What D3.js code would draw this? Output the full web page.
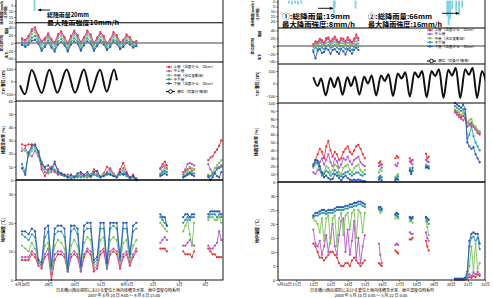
<!DOCTYPE html>
<html><head><meta charset="utf-8">
<script src="https://cdn.jsdelivr.net/npm/d3@7"></script>
<style>
body{margin:0;background:#fff}
svg{display:block}
text{font-family:"Noto Sans CJK JP","Noto Sans",sans-serif;fill:#000}
.tk text{font-family:"Liberation Sans",Arial,sans-serif;font-size:4px}
</style>
</head><body>
<svg id="c" width="493" height="298"></svg>
<script>
// ================= DATA =================
const LAYER_NAMES = ["上層（法面から　10cm）","中上層","中層（水位変動域）","中下層","下層（法面から　30cm）"];
const TIDE_NAME = "潮位（気象庁 晴海）";

// ---- left panel (2007, hours from 8/28 0:00) ----
const leftXTicks = [0,24,48,72,96,120,144,168];
const leftXLabels = ["8月28日","29日","30日","31日","9月1日","2日","3日","4日"];
const leftRainHours = [11.5];
const leftRainValues = [10];
const leftTideHours = [-1.8,2.75,8.9,18.1,25.1,32.4,41,48.7,56.9,63.1,71.6,77.8,84.5,87.2];
const leftTideValues = [-30,-100,90,-90,92,-88,95,-88,95,-85,92,-80,95,10];
const leftHours = [0,3,6,9,12,15,18,21,24,27,30,33,36,39,42,45,48,51,54,57,60,63,66,69,72,75,78,81,84,87,90,93,96,99,102,105,
  127,129,131,133, 148,150,152,154,156,158, 171,173,175,177,179,181,183];
const leftDispRed    = [12,8,18,35,40,20,5,12,25,10,2,22,30,15,0,18,32,20,2,15,32,22,0,14,28,18,0,10,28,20,2,8,22,15,2,5];
const leftDispPurple = [8,5,14,30,35,16,2,8,20,6,-2,18,25,12,-3,14,27,16,-2,12,27,18,-3,10,23,14,-3,7,22,16,-1,5,18,12,0,3];
const leftDispGreen  = [4,0,8,22,28,10,-6,2,14,0,-8,12,18,6,-10,8,20,10,-8,6,20,12,-8,4,16,8,-8,2,16,10,-5,0,12,8,-3,0];
const leftDispTeal   = [0,-6,2,14,18,4,-14,-4,6,-6,-16,4,10,0,-18,2,12,4,-16,0,12,4,-15,-2,8,2,-15,-4,8,4,-12,-5,6,2,-8,-4];
const leftDispBlue   = [-5,-10,-4,6,8,-2,-20,-10,0,-12,-22,-4,2,-6,-22,-4,4,-2,-20,-6,4,-2,-20,-8,2,-4,-18,-10,2,-2,-16,-10,0,-4,-12,-8];
const leftWaterRed    = [27,26,27,27,26,22,8,3,8,10,6,4,5,3,4,2,3,2,5,3,2,4,8,6,3,5,10,8,4,3,8,13,6,2,4,1, 9,12,14,11, 6,7,8,9,7,8, 15,17,18,21,23,26,30];
const leftWaterPurple = [22,24,20,18,22,18,10,6,5,6,12,8,4,3,2,3,2,3,4,3,4,3,5,4,3,4,6,9,5,3,6,9,4,2,3,1, 8,10,11,9, 4,8,12,13,12,11, 12,8,5,6,9,10,11];
const leftWaterGreen  = [24,22,18,22,24,20,12,8,6,8,8,6,5,4,3,2,3,4,3,2,3,4,5,5,3,4,5,7,4,3,5,7,3,2,2,0, 5,7,9,8, 3,5,7,10,9,8, 4,3,6,9,11,13,15];
const leftWaterTeal   = [12,6,20,24,26,22,14,9,7,9,7,5,4,3,2,1,2,3,2,3,4,2,4,3,2,3,4,5,3,2,4,5,3,1,2,0, 4,6,7,6, 2,3,5,6,5,5, 2,3,4,6,8,9,10];
const leftWaterBlue   = [9,4,21,26,27,21,12,10,11,8,14,6,5,4,2,4,2,5,6,4,6,3,6,7,2,3,5,4,3,2,6,4,5,2,3,0, 3,4,5,4, 2,3,4,5,4,3, 3,0,2,5,3,2,6];
const leftTempRed    = [7,7,7,9,8,5,4,8,9,0,7,9,9,8,3,8,9,8,3,8,10,9,3,4,9,10,4,9,10,9,4,8,9,5,8,10, 11,11,11,10, 10,9,9,9,8,10, 11,10,9,9,8,8,8];
const leftTempPurple = [8,8,8,10,9,6,5,9,11,2,9,10,10,9,3,9,10,9,3,9,11,10,4,5,10,11,4,10,11,10,5,9,10,6,9,11, 13,14,15,14, 12,12,13,14,13,12, 12,11,11,12,13,17,14];
const leftTempGreen  = [12,11,10,13,11,7,6,12,13,3,12,14,13,11,3,12,14,12,4,13,15,14,5,6,14,15,5,14,15,14,6,13,14,7,12,14, 20,19,18,17, 17,19,21,16,12,20, 21,22,22,21,21,22,20];
const leftTempTeal   = [16,15,14,16,15,6,5,15,17,4,16,17,17,15,3,17,18,16,4,17,18,18,6,7,18,18,5,18,19,18,7,18,18,8,17,18, 22,21,20,19, 20,21,22,21,22,22, 22,23,23,23,22,23,22];
const leftTempBlue   = [17,17,16,18,17,7,6,18,19,5,18,19,19,18,4,19,19,18,5,19,20,20,7,8,20,20,6,20,20,20,8,20,20,9,19,20, 23,22,22,19, 22,23,23,22,23,23, 23,24,24,24,24,24,23];

// ---- right panel (2008, day of May) ----
const rightXTicks = [10,11,12,13,14,15,16,17,18,19,20,21,22];
const rightXLabels = ["5月10日","11日","12日","13日","14日","15日","16日","17日","18日","19日","20日","21日","22日"];
const rightRainDays = [10.58,10.75,10.93,11.1,11.28,13.19,13.25,14.46,19.8,19.88,19.97,20.09,20.32,20.49,20.67];
const rightRainValues = [2,3,2,3,2,12,6,7,15,24,18,8,10,14,6];
const rightTideDays = [12,12.25,12.45,12.72,13,13.22,13.44,13.7,13.98,14.2,14.42,14.68,14.96,15.18,15.4,15.66,15.94,16.16,16.38,16.64,16.92,17.14,17.36,17.62,17.9,18.12,18.34,18.6,18.88,19.1,19.32,19.58,19.86,20.08,20.3,20.56,20.84,21.06,21.28,21.54,21.82,22.05];
const rightTideValues = [50,-20,40,-95,45,-30,50,-90,50,-20,55,-90,55,0,65,-95,65,20,75,-100,80,40,90,-105,90,50,100,-110,100,60,115,-115,110,65,125,-115,115,70,125,-115,100,20];
const rightDays = [12,12.125,12.25,12.375,12.5,12.625,12.75,12.875,13,13.125,13.25,13.375,13.5,13.625,13.75,13.875,14,14.125,14.25,14.375,14.5,14.625,14.75,14.875,15,
  15.82,15.9,15.98, 16.78,16.86,16.94, 17.62,17.7,17.78, 18.56,18.64,18.72,
  20.25,20.37,20.49,20.61,20.73,20.85,20.97,21.09,21.21,21.33,21.45,21.57,21.69];
const rightDispRed    = [5,12,10,18,15,8,20,22,12,18,24,15,10,20,18,12,22,15,10,18,30,20];
const rightDispPurple = [0,8,5,14,10,4,15,18,8,12,18,10,6,15,12,8,16,10,6,13,22,14];
const rightDispGreen  = [-2,4,2,8,5,0,8,10,3,6,10,4,2,8,6,2,8,4,0,6,12,6];
const rightDispTeal   = [-10,-4,-8,0,-4,-8,0,2,-5,-2,2,-4,-8,0,-3,-8,0,-5,-10,-2,4,-2];
const rightDispBlue   = [-15,-32,-12,-8,-18,-15,-6,-10,-20,-10,-8,-15,-20,-8,-14,-22,-8,-12,-20,-10,-4,-10];
const rightWaterRed    = [20,28,35,42,38,30,45,52,40,32,38,35,28,30,38,42,45,38,35,40,45,47,42,35,30, 24,26,22,30,33,31,30,26,28,36,30,32, 90,88,85,82,84,80,70,72,75,70,68,62,60];
const rightWaterPurple = [12,10,15,25,30,22,28,35,25,20,30,26,18,22,30,28,32,26,22,28,30,32,25,22,20, 20,22,18,22,20,24,26,24,22,28,26,25, 88,85,82,80,78,82,75,74,72,70,66,64,62];
const rightWaterGreen  = [18,22,25,15,10,12,20,18,12,15,22,20,12,10,18,20,22,15,12,18,20,22,15,12,15, 12,16,14,6,8,10,18,15,14,22,21,20, 92,90,88,85,88,84,75,78,80,72,70,66,64];
const rightWaterTeal   = [20,25,24,15,8,10,14,12,8,10,15,12,8,7,10,12,13,10,8,10,12,12,9,8,10, 6,8,6,4,5,7,16,12,14,20,19,19, 96,94,92,90,92,86,55,60,70,58,50,45,40];
const rightWaterBlue   = [22,28,27,20,12,6,8,5,3,4,10,8,5,2,6,8,5,3,2,3,2,3,2,1,1, 3,5,2,2,4,3,14,10,18,18,19,17, 100,98,96,94,98,92,50,45,42,44,35,30,25];
const rightTempRed    = [13,12,10,8,8,7,8,9,10,10,9,8,6,5,5,6,6,5,7,8,7,6,5,6,7, 6,5.5,5,10.5,10,9.5,14.5,14.5,15,14,12,10.5, 0,0,0,0,0,0.2,0.5,1,0.8,1.5,1,2,1.5];
const rightTempPurple = [18,13,12,14,9,12,16,10,15,20,12,9,16,21,22,10,18,9,14,21,8,15,6,12,16, 13,9,6,12.5,13,12.5,17,16.5,16.5,17,15,14, 0,0,0,0,0.2,0.3,0.8,2,1.5,2.5,2,3,2];
const rightTempGreen  = [22,21,20,17,22,14,22,23,13,22,23,12,22,24,16,23,24,18,24,25,15,25,24,17,24, 25,24,24.5,22,23,22,21,21,20.5,21,19,16, 0.2,0.2,0.2,0.2,0.3,0.5,1.5,5,12,3,13,4,6];
const rightTempTeal   = [22.5,23,23,23.5,24,24,23.5,24,24,24,24.5,25,25,25,25,25.5,25.5,26,26,26.5,26.5,27,27,26.5,26, 25.5,25,25,23,23,22.5,22,21.5,22,22,21,20, 0.3,0.3,0.3,0.3,0.3,0.6,2,12,15,15.5,14,15,11];
const rightTempBlue   = [23,24,24,24.5,25,25,24.5,25,25,25,25.5,26,26,26,26,26.5,26.5,27,27,27.5,27.5,28,28,27.5,27, 26,26,25.5,23.5,24,23.5,22.5,22,22.5,22.5,22,21.5, 0.5,0.5,0.5,0.5,0.5,0.8,3,14,16.5,17,16.5,16.5,13];

// ================= DRAWING =================
const COLORS = ["#e8383a","#b457cc","#7cc35a","#2f9aa6","#2a58b6"];
const RAIN_COLOR = "#7fd3df";
const svg = d3.select("#c");

function drawPanel(cfg, id) {
  const g = svg.append("g");
  const x = d3.scaleLinear().domain(cfg.xDomain).range(cfg.xRange);
  const X0 = cfg.frameX[0], X1 = cfg.frameX[1];
  g.append("clipPath").attr("id", "clip" + id).append("rect")
    .attr("x", X0).attr("y", -2).attr("width", X1 - X0).attr("height", 284);
  const plot = g.append("g").attr("clip-path", `url(#clip${id})`);

  const yRain = d3.scaleLinear().domain(cfg.rainDomain).range(cfg.rainRange);
  const yDisp = d3.scaleLinear().domain(cfg.dispDomain).range(cfg.dispRange);
  const yTide = d3.scaleLinear().domain(cfg.tideDomain).range(cfg.tideRange);
  const yWater = d3.scaleLinear().domain(cfg.waterDomain).range(cfg.waterRange);
  const yTemp = d3.scaleLinear().domain(cfg.tempDomain).range(cfg.tempRange);

  // rain bars
  plot.selectAll(null).data(d3.zip(cfg.rainT, cfg.rainV)).join("rect")
    .attr("x", d => x(d[0]) - 0.9).attr("width", 1.8)
    .attr("y", yRain(0) - 1).attr("height", d => yRain(d[1]) - yRain(0) + 1)
    .attr("fill", RAIN_COLOR);

  // zero line displacement
  g.append("line").attr("x1", X0).attr("x2", X1).attr("y1", yDisp(0)).attr("y2", yDisp(0))
    .attr("stroke", "#808080").attr("stroke-width", 1.6);

  function series(yScale, xs, list, gap) {
    list.forEach((vals, i) => {
      const pts = vals.map((v, j) => [xs[j], v]);
      const segs = []; let cur = [];
      pts.forEach((p, j) => { if (j > 0 && p[0] - pts[j-1][0] > gap) { segs.push(cur); cur = []; } cur.push(p); });
      segs.push(cur);
      const line = d3.line().x(d => x(d[0])).y(d => yScale(d[1]));
      segs.forEach(s => plot.append("path").attr("d", line(s)).attr("fill", "none")
        .attr("stroke", COLORS[i]).attr("stroke-width", 0.9));
      plot.append("g").selectAll("circle").data(pts).join("circle")
        .attr("cx", d => x(d[0])).attr("cy", d => yScale(d[1])).attr("r", 1.15)
        .attr("fill", COLORS[i]);
    });
  }
  series(yDisp, cfg.dispT, cfg.disp, cfg.gap);
  series(yWater, cfg.t, cfg.water, cfg.gap);
  series(yTemp, cfg.t, cfg.temp, cfg.gap);

  // tide
  plot.append("path").datum(d3.zip(cfg.tideT, cfg.tideV))
    .attr("d", d3.line().x(d => x(d[0])).y(d => yTide(d[1])).curve(d3.curveMonotoneX))
    .attr("fill", "none").attr("stroke", "#111").attr("stroke-width", 2);

  // frames
  const hl = [cfg.rainRange[1], cfg.dispRange[0], cfg.tideRange[0]];
  g.append("rect").attr("x", X0).attr("y", -2).attr("width", X1 - X0).attr("height", 282)
    .attr("fill", "none").attr("stroke", "#000").attr("stroke-width", 0.9);
  hl.forEach(yy => g.append("line").attr("x1", X0).attr("x2", X1).attr("y1", yy).attr("y2", yy)
    .attr("stroke", "#000").attr("stroke-width", 1.1));
  g.append("line").attr("x1", X0).attr("x2", X1).attr("y1", yWater(0)).attr("y2", yWater(0))
    .attr("stroke", "#000").attr("stroke-width", 1.6);

  // axes
  function yAxis(scale, ticks) {
    const a = g.append("g").attr("class", "tk").attr("transform", `translate(${X0},0)`)
      .call(d3.axisLeft(scale).tickValues(ticks).tickSize(1.8).tickPadding(1));
    a.select(".domain").remove();
    a.selectAll("line").attr("stroke-width", 0.5);
  }
  yAxis(yRain, cfg.rainTicks);
  yAxis(yDisp, cfg.dispTicks);
  yAxis(yTide, cfg.tideTicks);
  yAxis(yWater, cfg.waterTicks);
  yAxis(yTemp, cfg.tempTicks);

  const xa = g.append("g").attr("class", "tk").attr("transform", "translate(0,280)")
    .call(d3.axisBottom(x).tickValues(cfg.xTicks).tickFormat((d, i) => cfg.xLabels[i]).tickSize(1.8).tickPadding(1.5));
  xa.select(".domain").remove();
  xa.selectAll("line").attr("stroke-width", 0.5);
  xa.selectAll("text").style("font-family", '"Noto Sans CJK JP",sans-serif').style("font-size", "4px");
  if (cfg.firstLabelStart) {
    xa.selectAll("text").filter((d, i) => i === 0).attr("text-anchor", "start").attr("x", -2.5);
  }

  // axis titles
  cfg.titles.forEach(tt => g.append("text")
    .attr("transform", `translate(${tt[1]},${tt[2]}) rotate(-90)`)
    .attr("text-anchor", "middle").attr("font-size", tt[3]).attr("font-weight", "bold").text(tt[0]));

  // legend
  const lg = g.append("g");
  LAYER_NAMES.forEach((nm, i) => {
    const ly = cfg.legendY + i * cfg.legendStep;
    lg.append("line").attr("x1", cfg.legendX).attr("x2", cfg.legendX + 6).attr("y1", ly).attr("y2", ly)
      .attr("stroke", COLORS[i]).attr("stroke-width", 1);
    lg.append("circle").attr("cx", cfg.legendX + 3).attr("cy", ly).attr("r", 1.2).attr("fill", COLORS[i]);
    lg.append("text").attr("x", cfg.legendX + 7.5).attr("y", ly + 1.3).attr("font-size", 3.6).text(nm);
  });
  lg.append("line").attr("x1", cfg.legendX).attr("x2", cfg.legendX + 9).attr("y1", cfg.tideLegendY).attr("y2", cfg.tideLegendY)
    .attr("stroke", "#111").attr("stroke-width", 1.2);
  lg.append("circle").attr("cx", cfg.legendX + 4.5).attr("cy", cfg.tideLegendY).attr("r", 1.8)
    .attr("fill", "#fff").attr("stroke", "#111").attr("stroke-width", 1);
  lg.append("text").attr("x", cfg.legendX + 11).attr("y", cfg.tideLegendY + 1.3).attr("font-size", 3.6).text(TIDE_NAME);

  // rain notes
  cfg.notes.forEach(n => g.append("text").attr("x", n[1]).attr("y", n[2]).attr("font-size", n[3])
    .attr("font-weight", "bold").attr("textLength", n[4]).attr("lengthAdjust", "spacingAndGlyphs").text(n[0]));
  cfg.arrows.forEach(a => {
    g.append("line").attr("x1", a[0]).attr("x2", a[1]).attr("y1", a[2]).attr("y2", a[2])
      .attr("stroke", "#000").attr("stroke-width", 0.9);
    const dir = Math.sign(a[1] - a[0]);
    g.append("path").attr("d", `M${a[1]},${a[2]} l${-dir*3.2},-1.6 l0,3.2 z`).attr("fill", "#000");
  });

  // captions
  cfg.captions.forEach(c => g.append("text").attr("x", c[1]).attr("y", c[2]).attr("text-anchor", "middle")
    .attr("font-size", 4).text(c[0]));
}

drawPanel({
  xDomain: [0, 168], xRange: [22, 205], frameX: [16, 223],
  xTicks: leftXTicks, xLabels: leftXLabels, firstLabelStart: false,
  t: leftHours, dispT: leftHours.slice(0, 36), gap: 10,
  rainT: leftRainHours, rainV: leftRainValues, rainDomain: [0, 20], rainRange: [-0.4, 22.7], rainTicks: [5, 10, 15, 20],
  dispDomain: [-49, 49], dispRange: [62, 24], dispTicks: [-40, -20, 0, 20, 40],
  disp: [leftDispRed, leftDispPurple, leftDispGreen, leftDispTeal, leftDispBlue],
  tideT: leftTideHours, tideV: leftTideValues, tideDomain: [-153, 153], tideRange: [101, 62], tideTicks: [-100, 0, 100],
  waterDomain: [0, 60], waterRange: [180, 101], waterTicks: [0, 10, 20, 30, 40, 50, 60],
  water: [leftWaterRed, leftWaterPurple, leftWaterGreen, leftWaterTeal, leftWaterBlue],
  tempDomain: [0, 35], tempRange: [280, 180], tempTicks: [0, 10, 20, 30],
  temp: [leftTempRed, leftTempPurple, leftTempGreen, leftTempTeal, leftTempBlue],
  titles: [["降雨強度[mm/h]", 2.5, 12, 3.3], ["(10分間)", 6.5, 12, 3.3], ["変位[mm]", 3, 43, 3.6],
           ["隆起", 7.5, 31, 3.3], ["沈下", 7.5, 55, 3.3], ["T.P.潮位 [cm]", 4.5, 82, 4],
           ["体積含水率 [%]", 4.5, 140, 4], ["地中温度 [℃]", 4.5, 230, 4]],
  legendX: 166, legendY: 67, legendStep: 4.1, tideLegendY: 91.5,
  notes: [["総降雨量20mm", 47, 16.6, 6.1, 42], ["最大降雨強度10mm/h", 47, 24.8, 6.1, 72]],
  arrows: [[50, 38, 10]],
  captions: [["日本橋川西岸堤防における変位と地内体積含水率、地中温度の時系列", 118, 291.5],
             ["2007 年 8 月 28 日 9:00 〜 9 月 4 日 21:00", 124, 297]]
}, "L");

drawPanel({
  xDomain: [10, 22], xRange: [279, 485], frameX: [278, 485],
  xTicks: rightXTicks, xLabels: rightXLabels, firstLabelStart: true,
  t: rightDays, dispT: rightDays.slice(0, 22), gap: 0.3,
  rainT: rightRainDays, rainV: rightRainValues, rainDomain: [0, 27], rainRange: [1.7, 28], rainTicks: [0, 5, 10, 15, 20],
  dispDomain: [-46.4, 46.4], dispRange: [64, 28], dispTicks: [-40, -20, 0, 20, 40],
  disp: [rightDispRed, rightDispPurple, rightDispGreen, rightDispTeal, rightDispBlue],
  tideT: rightTideDays, tideV: rightTideValues, tideDomain: [-156, 156], tideRange: [103, 64], tideTicks: [-100, 0, 100],
  waterDomain: [0, 100], waterRange: [182, 103], waterTicks: [0, 10, 20, 30, 40, 50, 60, 70, 80, 90, 100],
  water: [rightWaterRed, rightWaterPurple, rightWaterGreen, rightWaterTeal, rightWaterBlue],
  tempDomain: [0, 35], tempRange: [280, 182], tempTicks: [0, 5, 10, 15, 20, 25, 30],
  temp: [rightTempRed, rightTempPurple, rightTempGreen, rightTempTeal, rightTempBlue],
  titles: [["降雨強度[mm/h]", 254, 14, 3.3], ["(10分間)", 259, 14, 3.3], ["変位[mm]", 254, 46, 3.6],
           ["隆起", 261, 34, 3.3], ["沈下", 261, 57, 3.3], ["T.P.潮位 [cm]", 259, 84, 4],
           ["体積含水率 [%]", 258, 142, 4], ["地中温度 [℃]", 259, 231, 4]],
  legendX: 427, legendY: 30, legendStep: 4.1, tideLegendY: 61,
  notes: [["①:総降雨量:19mm", 282, 18.5, 6.4, 68], ["最大降雨強度:8mm/h", 282, 26.5, 6.4, 73],
          ["②:総降雨量:66mm", 368, 18.5, 6.4, 64], ["最大降雨強度:16mm/h", 368, 26.5, 6.4, 74]],
  arrows: [[318, 333, 8.3], [442, 459, 13.3]],
  captions: [["日本橋川西岸堤防における変位と地内体積含水率、地中温度の時系列", 372, 291.5],
             ["2008 年 5 月 10 日 0:00 〜 5 月 22 日 0:00", 371, 297]]
}, "R");
</script>
</body></html>
